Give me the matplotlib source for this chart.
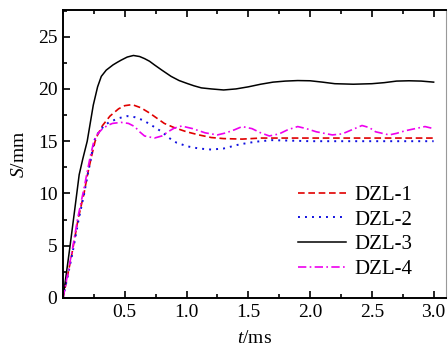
import matplotlib
matplotlib.use("Agg")
import matplotlib.pyplot as plt
from matplotlib.ticker import MultipleLocator

plt.rcParams['font.family'] = ['Liberation Serif', 'DejaVu Serif']
plt.rcParams['mathtext.fontset'] = 'custom'
plt.rcParams['mathtext.it'] = 'Liberation Serif:italic'
plt.rcParams['mathtext.rm'] = 'Liberation Serif'

labels = ['DZL-1', 'DZL-2', 'DZL-3', 'DZL-4']
xtick_labels = ['0.5', '1.0', '1.5', '2.0', '2.5', '3.0']

t1 = [0, 0.04, 0.078, 0.123, 0.17, 0.2, 0.23, 0.26, 0.28, 0.32, 0.38, 0.45, 0.5, 0.56, 0.63, 0.7, 0.76,
      0.82, 0.9, 1.0, 1.1, 1.2, 1.3, 1.45, 1.6, 2.0, 2.5, 3.0]
s1 = [0, 2.3, 4.6, 7.6, 10.0, 11.9, 13.5, 15.0, 15.6, 16.5, 17.4, 18.1, 18.4, 18.5, 18.2, 17.7, 17.2,
      16.7, 16.3, 15.9, 15.6, 15.35, 15.25, 15.2, 15.3, 15.3, 15.3, 15.3]

t2 = [0, 0.04, 0.08, 0.125, 0.17, 0.2, 0.23, 0.25, 0.28, 0.32, 0.37, 0.45, 0.52, 0.58, 0.65, 0.72, 0.80,
      0.86, 0.92, 1.01, 1.1, 1.2, 1.3, 1.43, 1.56, 1.69, 1.85, 2.0, 2.5, 3.0]
s2 = [0, 2.2, 4.5, 7.4, 9.9, 11.8, 13.6, 15.0, 15.7, 16.3, 16.8, 17.2, 17.4, 17.3, 17.0, 16.5, 15.9,
      15.3, 14.85, 14.5, 14.3, 14.2, 14.3, 14.7, 14.95, 15.1, 15.05, 15.0, 15.0, 15.0]

t3 = [0, 0.03, 0.054, 0.09, 0.131, 0.16, 0.196, 0.245, 0.28, 0.31, 0.35, 0.405, 0.44, 0.47, 0.52, 0.57,
      0.62, 0.66, 0.70, 0.74, 0.80, 0.875, 0.94, 1.01, 1.06, 1.12, 1.2, 1.3, 1.4, 1.5, 1.6, 1.7, 1.8, 1.9,
      2.0, 2.1, 2.2, 2.35, 2.5, 2.6, 2.7, 2.8, 2.9, 3.0]
s3 = [0, 2.6, 4.7, 8.0, 11.8, 13.3, 15.0, 18.45, 20.2, 21.2, 21.8, 22.3, 22.55, 22.75, 23.05, 23.2,
      23.1, 22.9, 22.65, 22.3, 21.8, 21.2, 20.8, 20.5, 20.3, 20.1, 20.0, 19.9, 20.0, 20.2, 20.45, 20.65, 20.75, 20.8,
      20.78, 20.65, 20.5, 20.45, 20.5, 20.6, 20.75, 20.78, 20.75, 20.65]

t4 = [0, 0.04, 0.078, 0.12, 0.165, 0.195, 0.22, 0.25, 0.28, 0.32, 0.36, 0.40, 0.47, 0.53, 0.58, 0.62,
      0.66, 0.74, 0.8, 0.85, 0.9, 0.96, 1.05, 1.15, 1.25, 1.32, 1.39, 1.45, 1.53, 1.6, 1.67, 1.75, 1.82,
      1.9, 1.97, 2.05, 2.18, 2.26, 2.34, 2.42, 2.48, 2.53, 2.64, 2.7, 2.77, 2.85, 2.93, 3.0]
s4 = [0, 2.4, 4.8, 7.7, 10.2, 12.0, 13.5, 15.0, 15.7, 16.2, 16.5, 16.7, 16.8, 16.7, 16.4, 15.9,
      15.5, 15.3, 15.5, 15.9, 16.25, 16.45, 16.2, 15.8, 15.6, 15.8, 16.1, 16.4, 16.2, 15.8, 15.5, 15.7, 16.1,
      16.4, 16.2, 15.9, 15.6, 15.7, 16.1, 16.5, 16.3, 15.9, 15.6, 15.75, 16.0, 16.2, 16.4, 16.2]

fig = plt.figure(figsize=(4.48, 3.49), dpi=100)
ax = fig.add_axes([63/448, 1 - 298/349, (446 - 63)/448, (298 - 10)/349])

ax.plot(t1, s1, color='#e00000', ls=(0, (4, 2.2)), lw=1.2, label=labels[0])
ax.plot(t2, s2, color='#1010e0', ls=(0, (1, 2.6)), lw=1.4, label=labels[1])
ax.plot(t3, s3, color='black', ls='-', lw=1.1, label=labels[2])
ax.plot(t4, s4, color='#ee00ee', ls=(0, (5, 2, 1, 2)), lw=1.2, label=labels[3])

ax.set_xlim(0, 3.1)
ax.set_ylim(0, 27.55)
ax.xaxis.set_minor_locator(MultipleLocator(0.25))
ax.yaxis.set_major_locator(MultipleLocator(5))
ax.yaxis.set_minor_locator(MultipleLocator(2.5))
ax.set_xticks([0.5, 1.0, 1.5, 2.0, 2.5, 3.0])
ax.set_xticklabels(xtick_labels)
ax.tick_params(which='both', direction='in', top=True, right=False, labelsize=14, width=1.2)
ax.tick_params(which='major', length=5, pad=4)
ax.tick_params(which='minor', length=3)
for sp in ['left', 'bottom', 'top']:
    ax.spines[sp].set_linewidth(1.4)
ax.spines['right'].set_linewidth(0.8)
ax.spines['right'].set_color('#999999')

ax.set_xlabel('$t$/ms', fontsize=14, labelpad=7)
ax.set_ylabel('$S$/mm', fontsize=14, labelpad=7)

leg = ax.legend(loc='lower right', bbox_to_anchor=(0.96, 0.0), frameon=False, fontsize=15,
                handlelength=2.3, handletextpad=0.4, labelspacing=0.25)

fig.savefig('out.png', dpi=100)
